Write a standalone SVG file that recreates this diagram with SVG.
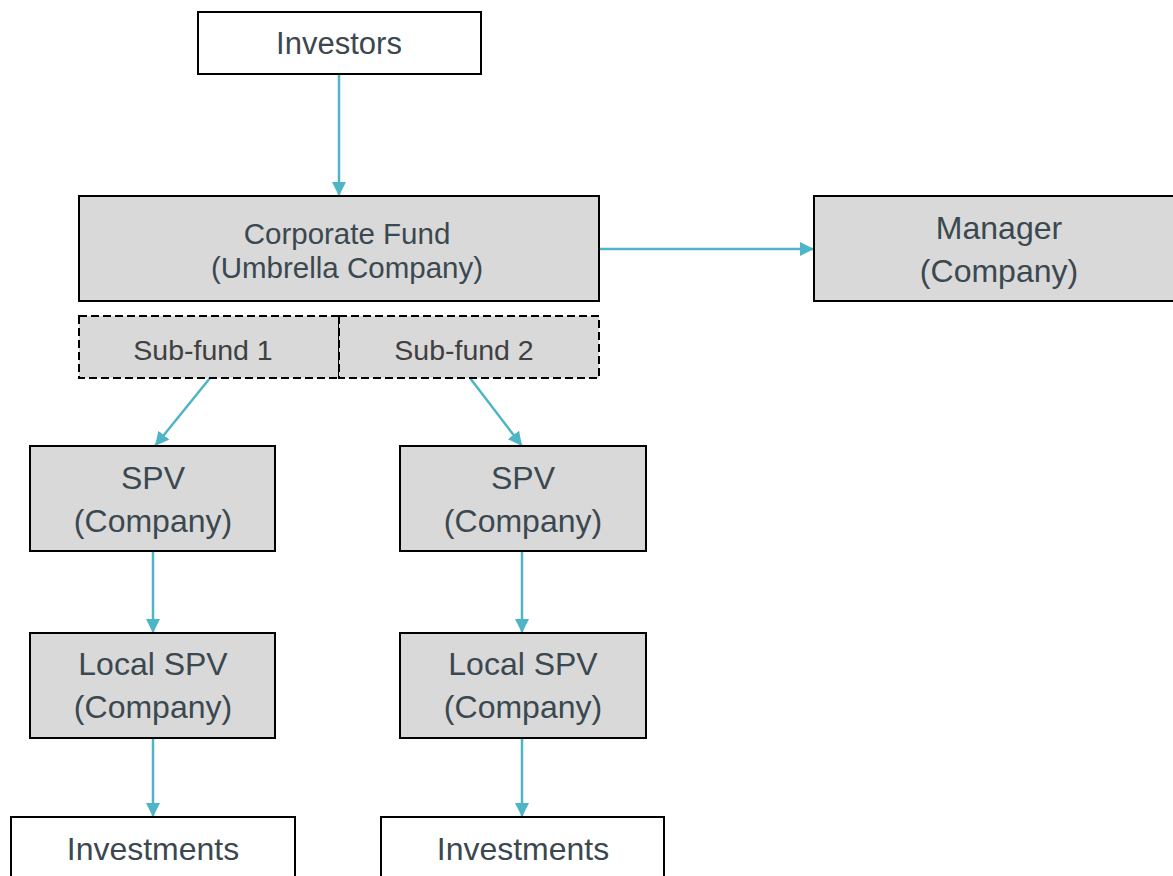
<svg xmlns="http://www.w3.org/2000/svg" width="1173" height="876" viewBox="0 0 1173 876">
<defs>
<marker id="ah" markerWidth="14" markerHeight="14" refX="14" refY="7" orient="auto" markerUnits="userSpaceOnUse">
<path d="M0,0 L14,7 L0,14 Z" fill="#4db5c6"/>
</marker>
</defs>
<style>
.box{fill:#d9d9d9;stroke:#000;stroke-width:2}
.wbox{fill:#fff;stroke:#000;stroke-width:2}
.dash{fill:#d9d9d9;stroke:#000;stroke-width:2;stroke-dasharray:8 4}
text{font-family:"Liberation Sans",Arial,sans-serif;fill:#3b4850;text-anchor:middle}
.big{font-size:32px}
.inv{font-size:31px}
.mid{font-size:29.5px}
.sub{font-size:28.5px;fill:#404040}
.conn{stroke:#4db5c6;stroke-width:2.5;fill:none;marker-end:url(#ah)}
</style>
<rect width="1173" height="876" fill="#fff"/>
<g id="connectors">
<line class="conn" x1="339" y1="75" x2="339" y2="196"/>
<line class="conn" x1="600" y1="249" x2="814" y2="249"/>
<line class="conn" x1="210" y1="378" x2="155" y2="446"/>
<line class="conn" x1="470" y1="378" x2="522" y2="446"/>
<line class="conn" x1="153" y1="552" x2="153" y2="633"/>
<line class="conn" x1="522" y1="552" x2="522" y2="633"/>
<line class="conn" x1="153" y1="739" x2="153" y2="817"/>
<line class="conn" x1="522" y1="739" x2="522" y2="817"/>
</g>
<g id="investors">
<rect class="wbox" x="198" y="12" width="283" height="62"/>
<text class="inv" x="339" y="54">Investors</text>
</g>
<g id="corporate-fund">
<rect class="box" x="79" y="196" width="520" height="105"/>
<text class="mid" x="347" y="244">Corporate Fund</text>
<text class="mid" x="347" y="278">(Umbrella Company)</text>
</g>
<g id="manager">
<rect class="box" x="814" y="196" width="365" height="105"/>
<text class="big" x="999" y="239">Manager</text>
<text class="big" x="999" y="282">(Company)</text>
</g>
<g id="sub-fund-1">
<rect class="dash" x="79" y="316" width="260" height="62"/>
<text class="sub" x="203" y="360">Sub-fund 1</text>
</g>
<g id="sub-fund-2">
<rect class="dash" x="339" y="316" width="260" height="62"/>
<text class="sub" x="464" y="360">Sub-fund 2</text>
</g>
<g id="spv-1">
<rect class="box" x="30" y="446" width="245" height="105"/>
<text class="big" x="153" y="489">SPV</text>
<text class="big" x="153" y="532">(Company)</text>
</g>
<g id="spv-2">
<rect class="box" x="400" y="446" width="246" height="105"/>
<text class="big" x="523" y="489">SPV</text>
<text class="big" x="523" y="532">(Company)</text>
</g>
<g id="local-spv-1">
<rect class="box" x="30" y="633" width="245" height="105"/>
<text class="big" x="153" y="675">Local SPV</text>
<text class="big" x="153" y="718">(Company)</text>
</g>
<g id="local-spv-2">
<rect class="box" x="400" y="633" width="246" height="105"/>
<text class="big" x="523" y="675">Local SPV</text>
<text class="big" x="523" y="718">(Company)</text>
</g>
<g id="investments-1">
<rect class="wbox" x="11" y="817" width="284" height="70"/>
<text class="big" x="153" y="860">Investments</text>
</g>
<g id="investments-2">
<rect class="wbox" x="381" y="817" width="283" height="70"/>
<text class="big" x="523" y="860">Investments</text>
</g>
</svg>
